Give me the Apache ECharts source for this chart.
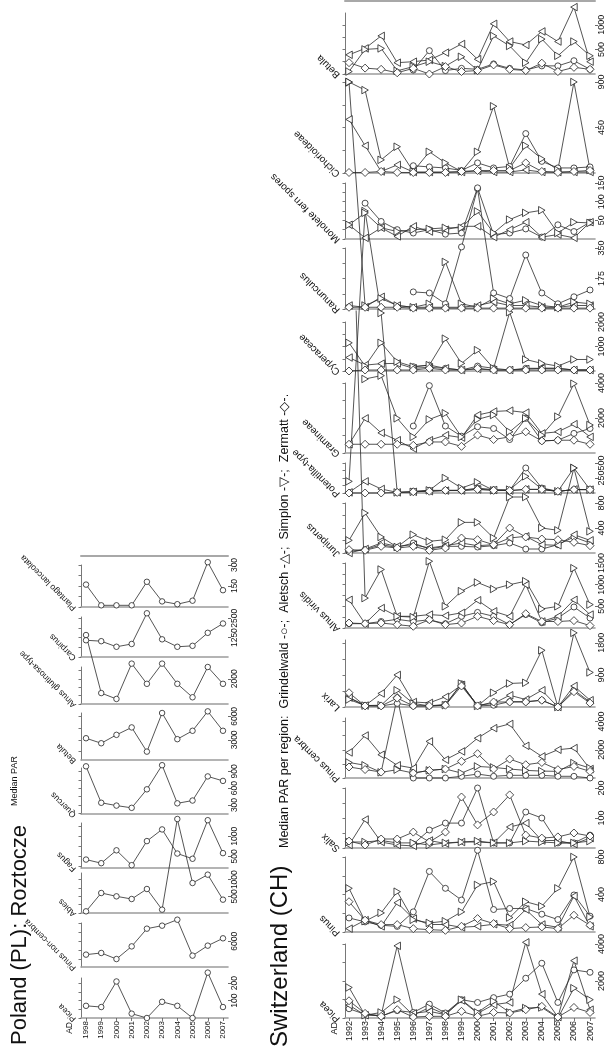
<!DOCTYPE html>
<html><head><meta charset="utf-8">
<script src="https://cdn.jsdelivr.net/npm/echarts@6/dist/echarts.min.js"></script>
<style>html,body{margin:0;padding:0;background:#fff}#c{width:609px;height:1054px}</style>
</head><body><div id="c"></div>
<script>
const FONT = '"Liberation Sans", Arial, Helvetica, sans-serif';

// ---------- Poland (PL): Roztocze ----------
const yearsPL = [1998,1999,2000,2001,2002,2003,2004,2005,2006,2007];
const plTaxa = ['Picea','Pinus non-cembra','Abies','Fagus','Quercus','Betula','Alnus glutinosa-type','Carpinus','Plantago lanceolata'];
const plPicea          = [70, 63, 210, 25, 0, 93, 70, 0, 261, 63];
const plPinusNonCembra = [4550, 4730, 4070, 5450, 7380, 7710, 8360, 4440, 5530, 6330];
const plAbies          = [50, 600, 500, 420, 720, 100, 2820, 900, 1150, 400];
const plFagus          = [420, 330, 650, 280, 880, 1170, 570, 440, 1400, 580];
const plQuercus        = [990, 340, 290, 250, 580, 1010, 330, 380, 810, 730];
const plBetula         = [3210, 2570, 3640, 4590, 1500, 6430, 3090, 4160, 6640, 4160];
const plAlnusGlutinosa = [4600, 1150, 800, 2900, 1700, 2900, 1700, 900, 2700, 1700];
const plCarpinus       = [1080, 1020, 660, 840, 2820, 1140, 660, 720, 1560, 2160];
const plPlantago       = [160, 12, 12, 12, 180, 40, 20, 45, 320, 120];
const plValues = [plPicea, plPinusNonCembra, plAbies, plFagus, plQuercus, plBetula, plAlnusGlutinosa, plCarpinus, plPlantago];
const plTickLabels = [[100,200],[4000,6000],[500,1000],[500,1000],[300,600,900],[3000,6000],[1000,2000],[1250,2500],[150,300]];
const plAxisMin = [0, 3200, 0, 210, 140, 430, 500, 0, 0];
const plAxisMax = [230, 8000, 1200, 1330, 960, 6430, 2700, 2580, 300];

// ---------- Switzerland (CH) ----------
const yearsCH = [1992,1993,1994,1995,1996,1997,1998,1999,2000,2001,2002,2003,2004,2005,2006,2007];
const chRegions = ['Grindelwald','Aletsch','Simplon','Zermatt'];
const chTaxa = ['Picea','Pinus','Salix','Pinus cembra','Larix','Alnus viridis','Juniperus','Potentilla-type','Gramineae','Cyperaceae','Ranunculus','Monolete fern spores','Cichorioideae','Betula'];
const _ = '-';
const chPicea_G = [500, 200, 100, 400, 300, 750, 270, 990, 840, 1100, 1290, 2150, 2960, 840, 2600, 2470];
const chPicea_A = [700, 150, 150, 3900, 250, 360, 180, 950, 250, 720, 840, 4090, 1290, 50, 3100, 450];
const chPicea_S = [1650, 150, 300, 990, 150, 570, 200, 990, 300, 900, 300, 540, 570, 0, 1610, 990];
const chPicea_Z = [930, 250, 90, 450, 50, 90, 90, 360, 90, 300, 270, 450, 630, 50, 570, 300];
const chPinus_G = [150, 108, 72, 60, 215, 646, 466, 341, 872, 240, 251, 251, 190, 133, 395, 169];
const chPinus_A = [36, 126, 60, 312, 143, 80, 80, 50, 61, 83, 72, 240, 80, 50, 384, 60];
const chPinus_S = [466, 115, 204, 430, 130, 97, 115, 215, 502, 538, 154, 323, 276, 466, 800, 161];
const chPinus_Z = [323, 126, 79, 79, 36, 25, 18, 61, 143, 90, 36, 47, 54, 36, 179, 72];
const chSalix_G = [_, _, _, _, 13, 60, 83, 83, 200, 17, 17, 120, 100, 17, 17, 43];
const chSalix_A = [10, 95, 20, 10, 7, 25, 15, 20, 20, 17, 70, 83, 25, 25, 13, 33];
const chSalix_S = [20, 20, 25, 17, 17, 10, 17, 20, 23, 17, 17, 23, 20, 17, 17, 23];
const chSalix_Z = [23, 10, 30, 30, 53, 20, 53, 170, 77, 120, 177, 43, 33, 37, 50, 40];
const chPinusCembra_G = [_, _, _, _, 0, 0, 0, 120, 280, 120, 190, 190, 190, 120, 120, 0];
const chPinusCembra_A = [1810, 3010, 1650, 900, 700, 2590, 1290, 1880, 2820, 3530, 3830, 2280, 1530, 2000, 2120, 635];
const chPinusCembra_S = [1100, 900, 400, 590, 350, 540, 635, 350, 820, 750, 635, 540, 490, 470, 1060, 700];
const chPinusCembra_Z = [780, 600, 420, 5700, 350, 540, 635, 1180, 1720, 635, 1340, 940, 1100, 590, 820, 470];
const chLarix_G = [265, 40, 30, 100, 30, 30, 75, 650, 30, 50, 150, 150, 190, 0, 475, 140];
const chLarix_A = [265, 40, 380, 900, 140, 115, 285, 620, 50, 100, 330, 210, 470, 0, 590, 190];
const chLarix_S = [210, 40, 50, 470, 100, 30, 50, 660, 30, 400, 660, 680, 1590, 0, 2080, 970];
const chLarix_Z = [400, 30, 30, 250, 30, 30, 50, 590, 30, 140, 140, 140, 190, 0, 430, 110];
const chAlnusViridis_G = [100, 100, 150, 200, 150, 190, 100, 270, 360, 270, 80, 310, 120, 230, 485, 230];
const chAlnusViridis_A = [650, 100, 460, 270, 270, 310, 285, 350, 640, 385, 270, 1000, 150, 270, 650, 310];
const chAlnusViridis_S = [12600, 690, 1350, 270, 250, 1540, 500, 850, 1050, 900, 1000, 1080, 440, 500, 1380, 540];
const chAlnusViridis_Z = [115, 100, 115, 77, 40, 190, 77, 115, 270, 170, 77, 330, 150, 150, 170, 55];
const chJuniperus_G = [27, 53, 133, 90, 160, 64, 107, 107, 96, 117, 160, 64, 64, 133, 256, 160];
const chJuniperus_A = [0, 64, 160, 107, 133, 80, 117, 160, 117, 133, 240, 267, 133, 123, 293, 203];
const chJuniperus_S = [203, 640, 256, 96, 293, 187, 213, 490, 490, 240, 896, 896, 400, 363, 1360, 347];
const chJuniperus_Z = [53, 43, 107, 80, 107, 43, 80, 240, 213, 133, 400, 256, 224, 213, 171, 117];
const chPotentilla_G = [_, _, _, _, 28, 44, 44, 44, 83, 56, 44, 417, 83, 28, 56, 56];
const chPotentilla_A = [10, 194, 67, 10, 20, 30, 40, 40, 60, 50, 40, 60, 60, 25, 60, 56];
const chPotentilla_S = [194, 4700, 3000, 10, 20, 44, 250, 83, 178, 44, 56, 278, 67, 28, 417, 56];
const chPotentilla_Z = [0, 0, 0, 10, 20, 30, 44, 44, 60, 44, 40, 60, 60, 28, 56, 56];
const chGramineae_G = [_, _, _, _, 1540, 3850, 1540, 960, 1500, 1400, 770, 1980, 690, 730, 1120, 1400];
const chGramineae_A = [500, 1980, 1150, 730, 250, 730, 1020, 880, 2170, 2370, 2420, 2310, 1120, 1210, 1650, 920];
const chGramineae_S = [_, 4230, 4420, 1980, 920, 1920, 2270, 920, 1920, 2170, 1210, 1980, 1020, 2080, 3960, 1600];
const chGramineae_Z = [500, 500, 500, 500, 440, 630, 630, 380, 1020, 770, 920, 1210, 690, 730, 730, 500];
const chCyperaceae_G = [_, _, _, _, 175, 240, 110, 40, 200, 110, 40, 110, 110, 110, 40, 40];
const chCyperaceae_A = [550, 240, 300, 310, 110, 150, 110, 40, 80, 40, 40, 80, 110, 110, 40, 40];
const chCyperaceae_S = [1150, 200, 1150, 380, 175, 240, 1320, 310, 850, 110, 2400, 470, 310, 200, 470, 470];
const chCyperaceae_Z = [0, 40, 40, 40, 40, 110, 40, 40, 110, 40, 40, 40, 40, 40, 40, 40];
const chRanunculus_G = [_, _, _, _, 98, 92, 30, 356, 690, 92, 60, 310, 92, 30, 70, 109];
const chRanunculus_A = [20, 10, 70, 20, 10, 10, 10, 10, 20, 40, 20, 20, 10, 10, 20, 20];
const chRanunculus_S = [1300, 20, 60, 20, 10, 30, 270, 30, 10, 60, 30, 50, 20, 10, 40, 30];
const chRanunculus_Z = [10, 10, 10, 10, 5, 5, 5, 5, 5, 5, 5, 5, 5, 5, 5, 5];
const chMonolete_G = [_, 96, 47, 25, 16, 25, 13, 16, 137, 12, 16, 27, 5, 38, 20, 45];
const chMonolete_A = [38, 3, 30, 7, 34, 20, 25, 34, 34, 5, 25, 45, 5, 12, 3, 45];
const chMonolete_S = [38, 70, 30, 20, 25, 27, 30, 30, 74, 16, 52, 70, 77, 16, 45, 43];
const chMonolete_Z = [_, _, _, _, _, _, _, _, _, _, _, _, _, _, _, _];
const chCichorioideae_G = [_, _, _, _, 72, 60, 50, 25, 100, 50, 65, 390, 115, 50, 50, 60];
const chCichorioideae_A = [530, 270, 15, 80, 10, 10, 10, 10, 20, 10, 10, 30, 10, 10, 10, 10];
const chCichorioideae_S = [900, 820, 130, 260, 15, 210, 100, 15, 210, 660, 50, 270, 140, 30, 900, 30];
const chCichorioideae_Z = [5, 5, 15, 5, 5, 5, 5, 15, 25, 25, 25, 100, 15, 5, 15, 25];
const chBetula_G = [_, _, _, _, 80, 475, 70, 115, 95, 205, 115, 80, 165, 165, 270, 95];
const chBetula_A = [390, 520, 775, 230, 250, 285, 435, 610, 300, 1020, 660, 590, 865, 660, 1360, 250];
const chBetula_S = [50, 500, 520, 65, 150, 250, 160, 350, 80, 775, 570, 230, 710, 370, 660, 370];
const chBetula_Z = [230, 120, 95, 25, 115, 0, 150, 50, 70, 185, 95, 70, 220, 50, 135, 95];

const chValues = [
  [chPicea_G, chPicea_A, chPicea_S, chPicea_Z],
  [chPinus_G, chPinus_A, chPinus_S, chPinus_Z],
  [chSalix_G, chSalix_A, chSalix_S, chSalix_Z],
  [chPinusCembra_G, chPinusCembra_A, chPinusCembra_S, chPinusCembra_Z],
  [chLarix_G, chLarix_A, chLarix_S, chLarix_Z],
  [chAlnusViridis_G, chAlnusViridis_A, chAlnusViridis_S, chAlnusViridis_Z],
  [chJuniperus_G, chJuniperus_A, chJuniperus_S, chJuniperus_Z],
  [chPotentilla_G, chPotentilla_A, chPotentilla_S, chPotentilla_Z],
  [chGramineae_G, chGramineae_A, chGramineae_S, chGramineae_Z],
  [chCyperaceae_G, chCyperaceae_A, chCyperaceae_S, chCyperaceae_Z],
  [chRanunculus_G, chRanunculus_A, chRanunculus_S, chRanunculus_Z],
  [chMonolete_G, chMonolete_A, chMonolete_S, chMonolete_Z],
  [chCichorioideae_G, chCichorioideae_A, chCichorioideae_S, chCichorioideae_Z],
  [chBetula_G, chBetula_A, chBetula_S, chBetula_Z]
];
const chTickLabels = [[2000,4000],[400,800],[100,200],[2000,4000],[900,1800],[500,1000,1500],[400,800],[250,500],[2000,4000],[1000,2000],[175,350],[50,100,150],[450,900],[500,1000]];
const chAxisMax = [4000, 800, 200, 4250, 1880, 1500, 800, 500, 4000, 2000, 350, 150, 900, 1240];

// ---------- layout (pixels) ----------
const plLayout = {left: 81, right: 228, tops: [978,923,873,823,768,713,667,617,565], bottoms: [1018,967,913,868,814,760,704,657,607],
  xMin: 1997.67, xMax: 2007.33, topLine: 9, tickFont: 8.5, yearFont: 8, taxonFont: 8.5};
const chLayout = {left: 345, right: 595, tops: [944,857,788,718,640,563,503,463,383,322,248,183,82,13], bottoms: [1018,932,848,778,707,628,553,493,453,371,309,239,173,74],
  xMin: 1991.75, xMax: 2007.31, topLine: 12, tickFont: 9, yearFont: 9, taxonFont: 10};

const regionStyle = [
  {symbol: 'circle', size: 6, rotate: 0},
  {symbol: 'triangle', size: [7.5, 6.5], rotate: 90},
  {symbol: 'triangle', size: [7.5, 6.5], rotate: -90},
  {symbol: 'diamond', size: [8, 8], rotate: 0}
];

const grids = [], xAxes = [], yAxes = [], series = [], graphics = [];
const fmt = v => String(v);

function addBand(L, i, n, years, taxon, ticks, yMin, yMax, lines) {
  const gi = grids.length;
  const top = L.tops[i], bottom = L.bottoms[i];
  grids.push({left: L.left, top: top, width: L.right - L.left, height: bottom - top});
  const isBottom = i === 0, isTop = i === n - 1;
  const xi = xAxes.length;
  xAxes.push({type: 'value', gridIndex: gi, min: L.xMin, max: L.xMax,
    axisLine: {show: true, onZero: false, lineStyle: {color: '#9c9c9c', width: 1.6}},
    axisTick: {show: isBottom, customValues: years, length: 3, lineStyle: {color: '#555', width: 0.8}},
    axisLabel: {show: isBottom, customValues: years, rotate: 90, fontSize: L.yearFont, color: '#111', margin: 3, fontFamily: FONT, formatter: fmt},
    splitLine: {show: false}});
  if (isTop) {
    xAxes.push({type: 'value', gridIndex: gi, position: 'top', offset: L.topLine, min: L.xMin, max: L.xMax,
      axisLine: {show: true, onZero: false, lineStyle: {color: '#a8a8a8', width: 2}},
      axisTick: {show: false}, axisLabel: {show: false}, splitLine: {show: false}});
  }
  const yi = yAxes.length;
  yAxes.push({type: 'value', gridIndex: gi, position: 'right', min: yMin, max: yMax,
    axisLine: {show: false, onZero: false},
    axisTick: {show: true, customValues: ticks, length: 3, lineStyle: {color: '#444', width: 0.8}},
    axisLabel: {show: true, customValues: ticks, rotate: 90, fontSize: L.tickFont, color: '#111', margin: 2, fontFamily: FONT, formatter: fmt},
    splitLine: {show: false}});
  const leftTicks = [];
  const step = ticks.length > 1 ? (ticks[1] - ticks[0]) / 2 : ticks[0] / 2;
  for (let v = Math.ceil(yMin / step) * step; v <= yMax + 1e-9; v += step) leftTicks.push(v);
  yAxes.push({type: 'value', gridIndex: gi, position: 'left', min: yMin, max: yMax,
    axisLine: {show: true, onZero: false, lineStyle: {color: '#555', width: 0.8}},
    axisTick: {show: true, customValues: leftTicks, length: 2.5, lineStyle: {color: '#555', width: 0.8}},
    axisLabel: {show: false}, splitLine: {show: false}});
  lines.forEach(ln => {
    series.push({type: 'line', xAxisIndex: xi, yAxisIndex: yi, name: ln.name,
      data: years.map((y, k) => [y, ln.values[k]]),
      symbol: ln.style.symbol, symbolSize: ln.style.size, symbolRotate: ln.style.rotate,
      showSymbol: true, clip: false, connectNulls: false, animation: false, silent: true,
      lineStyle: {color: '#2a2a2a', width: 0.8},
      itemStyle: {color: '#ffffff', borderColor: '#222', borderWidth: 0.8}});
  });
  graphics.push({type: 'text', x: L.left - 3, y: bottom - 1, rotation: Math.PI * 3 / 4,
    style: {text: taxon, fontSize: L.taxonFont, fontFamily: FONT, fill: '#111', align: 'left', verticalAlign: 'bottom'}});
}

plTaxa.forEach((t, i) => {
  addBand(plLayout, i, plTaxa.length, yearsPL, t, plTickLabels[i], plAxisMin[i], plAxisMax[i],
    [{name: t, values: plValues[i], style: {symbol: 'circle', size: 5.5, rotate: 0}}]);
});
chTaxa.forEach((t, i) => {
  addBand(chLayout, i, chTaxa.length, yearsCH, t, chTickLabels[i], 0, chAxisMax[i],
    chRegions.map((r, k) => ({name: r + ' ' + t, values: chValues[i][k], style: regionStyle[k]})));
});

// titles & annotations
graphics.push({type: 'text', x: 20, y: 1045, rotation: Math.PI / 2,
  style: {text: 'Poland (PL): Roztocze', fontSize: 22, fontFamily: FONT, fill: '#111', align: 'left', verticalAlign: 'middle'}});
graphics.push({type: 'text', x: 15, y: 781, rotation: Math.PI / 2,
  style: {text: 'Median PAR', fontSize: 9, fontFamily: FONT, fill: '#111', align: 'center', verticalAlign: 'middle'}});
graphics.push({type: 'text', x: 70, y: 1022, rotation: Math.PI / 2,
  style: {text: 'AD', fontSize: 8.5, fontFamily: FONT, fill: '#111', align: 'right', verticalAlign: 'middle'}});
graphics.push({type: 'text', x: 280, y: 1047, rotation: Math.PI / 2,
  style: {text: 'Switzerland (CH)', fontSize: 24, fontFamily: FONT, fill: '#111', align: 'left', verticalAlign: 'middle'}});
graphics.push({type: 'text', x: 285, y: 848, rotation: Math.PI / 2,
  style: {text: 'Median PAR per region:  Grindelwald -○-;  Aletsch -△-;  Simplon -▽-;  Zermatt -◇-.', fontSize: 12.5, fontFamily: FONT, fill: '#111', align: 'left', verticalAlign: 'middle'}});
graphics.push({type: 'text', x: 335, y: 1022, rotation: Math.PI / 2,
  style: {text: 'AD', fontSize: 9, fontFamily: FONT, fill: '#111', align: 'right', verticalAlign: 'middle'}});

const chart = echarts.init(document.getElementById('c'), null, {renderer: 'canvas'});
chart.setOption({
  animation: false,
  backgroundColor: '#ffffff',
  grid: grids, xAxis: xAxes, yAxis: yAxes, series: series, graphic: graphics
});
</script></body></html>
